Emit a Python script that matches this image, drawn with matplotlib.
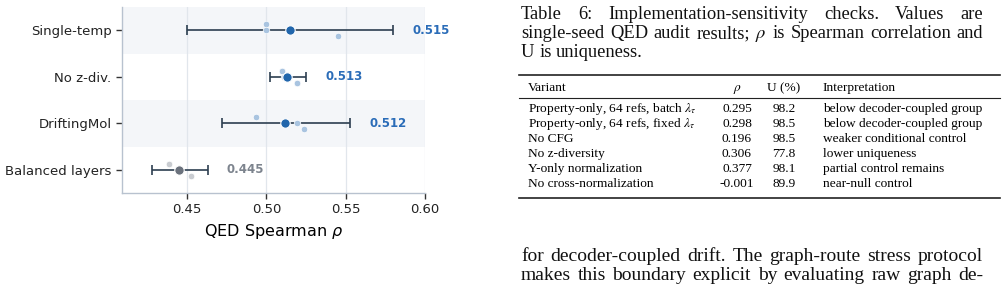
import numpy as np
import matplotlib
matplotlib.use("Agg")
import matplotlib.pyplot as plt

plt.rcParams['mathtext.fontset'] = 'stix'

# chart data
variants = ["Single-temp", "No z-div.", "DriftingMol", "Balanced layers"]
means = [0.515, 0.513, 0.512, 0.445]
err_lo = [0.450, 0.502, 0.472, 0.428]
err_hi = [0.580, 0.525, 0.553, 0.463]
seeds = [[0.4997, 0.500, 0.545],
         [0.510, 0.511, 0.519],
         [0.4935, 0.519, 0.5238],
         [0.4384, 0.444, 0.4527]]
seed_offsets = [-0.13, 0.0, 0.13]
is_main = [True, True, True, False]

# table data
caption = ["Table 6: Implementation-sensitivity checks. Values are",
           "single-seed QED audit results; $\\rho$ is Spearman correlation and",
           "U is uniqueness."]
col_names = ["Variant", "$\\rho$", "U (%)", "Interpretation"]
tab_variant = ["Property-only, 64 refs, batch $\\lambda_\\tau$",
               "Property-only, 64 refs, fixed $\\lambda_\\tau$",
               "No CFG", "No z-diversity", "Y-only normalization",
               "No cross-normalization"]
tab_rho = ["0.295", "0.298", "0.196", "0.306", "0.377", "-0.001"]
tab_u = ["98.2", "98.5", "98.5", "77.8", "98.1", "89.9"]
tab_interp = ["below decoder-coupled group", "below decoder-coupled group",
              "weaker conditional control", "lower uniqueness",
              "partial control remains", "near-null control"]
body = ["for decoder-coupled drift. The graph-route stress protocol",
        "makes this boundary explicit by evaluating raw graph de-"]

W, H = 1003, 288
fig = plt.figure(figsize=(W / 100, H / 100), dpi=100)
ax = fig.add_axes([122 / W, 1 - 193 / H, (425 - 122) / W, (193 - 7) / H])

blue, blue_l = "#2166ac", "#a9c4e0"
gray, gray_l = "#6b727d", "#c9ccd1"

for i in range(len(variants)):
    if i % 2 == 0:
        ax.axhspan(i - 0.5, i + 0.5, color="#f4f6f9", zorder=0, lw=0)
    c, cl = (blue, blue_l) if is_main[i] else (gray, gray_l)
    tc = "#2a6cb8" if is_main[i] else "#7d848e"
    ax.scatter(seeds[i], [i + o for o in seed_offsets], s=22, color=cl,
               edgecolor="white", linewidth=0.5, zorder=3)
    ax.errorbar(means[i], i, xerr=[[means[i] - err_lo[i]], [err_hi[i] - means[i]]],
                fmt="none", ecolor="#2c3e50", elinewidth=1.2, capsize=3.8,
                capthick=1.2, zorder=2)
    ax.plot(means[i], i, "o", ms=6.8, color=c, mec="white", mew=0.8, zorder=4)
    ax.text(err_hi[i] + 0.012, i, f"{means[i]:.3f}", color=tc, fontsize=8.5,
            fontweight="bold", va="center", ha="left")

ax.set_ylim(len(variants) - 0.5, -0.5)
ax.set_xlim(0.409, 0.60)
ax.set_yticks(range(len(variants)))
ax.set_yticklabels(variants, fontsize=9.5, color="#222222")
ax.set_xticks([0.45, 0.50, 0.55, 0.60])
ax.set_xticklabels(["0.45", "0.50", "0.55", "0.60"], fontsize=9.5, color="#222222")
ax.set_xlabel("QED Spearman $\\rho$", fontsize=11.5, math_fontfamily="dejavusans",
              labelpad=4)
ax.grid(axis="x", color="#e1e6ec", lw=0.9, zorder=1)
ax.set_axisbelow(True)
for s in ["top", "right"]:
    ax.spines[s].set_visible(False)
for s in ["left", "bottom"]:
    ax.spines[s].set_color("#b8c2cf")
    ax.spines[s].set_linewidth(1.0)
ax.tick_params(axis="both", length=4, width=1, color="#333333")

# right side: table and body text in serif
serif = "Liberation Serif"
renderer = fig.canvas.get_renderer()
x0, x1 = 521, 983


def px(x, y):
    return x / W, 1 - y / H


def justify(line, y, fs, last=False):
    words = line.split(" ")
    texts = [fig.text(*px(x0, y), w, fontsize=fs, family=serif, va="baseline",
                      ha="left", color="#111111") for w in words]
    widths = [t.get_window_extent(renderer).width for t in texts]
    gap = (x1 - x0 - sum(widths)) / (len(words) - 1)
    if last:
        gap = 0.25 * fs * 100 / 72
    x = x0
    for t, wd in zip(texts, widths):
        t.set_position(px(x, y))
        x += wd + gap


for k, line in enumerate(caption):
    justify(line, 19 + k * 19, 13.3, last=(k == len(caption) - 1))

tfs = 9.6
rule_l, rule_r = 519, 1000
fig.add_artist(plt.Line2D([rule_l / W, rule_r / W], [1 - 75 / H] * 2, color="#222222", lw=1.2))
fig.add_artist(plt.Line2D([rule_l / W, rule_r / W], [1 - 97.5 / H] * 2, color="#222222", lw=0.8))
fig.add_artist(plt.Line2D([rule_l / W, rule_r / W], [1 - 198 / H] * 2, color="#222222", lw=1.2))

hy = 91
fig.text(*px(528, hy), col_names[0], fontsize=tfs, family=serif, va="baseline")
fig.text(*px(737, hy), col_names[1], fontsize=tfs, family=serif, va="baseline", ha="center")
fig.text(*px(784, hy), col_names[2], fontsize=tfs, family=serif, va="baseline", ha="center")
fig.text(*px(823, hy), col_names[3], fontsize=tfs, family=serif, va="baseline")
for r in range(len(tab_variant)):
    y = 112 + r * 15
    fig.text(*px(528, y), tab_variant[r], fontsize=tfs, family=serif, va="baseline")
    fig.text(*px(737, y), tab_rho[r], fontsize=tfs, family=serif, va="baseline", ha="center")
    fig.text(*px(784, y), tab_u[r], fontsize=tfs, family=serif, va="baseline", ha="center")
    fig.text(*px(823, y), tab_interp[r], fontsize=tfs, family=serif, va="baseline")

for k, line in enumerate(body):
    justify(line, 261 + k * 19.5, 14)

fig.savefig("out.png", dpi=100)
